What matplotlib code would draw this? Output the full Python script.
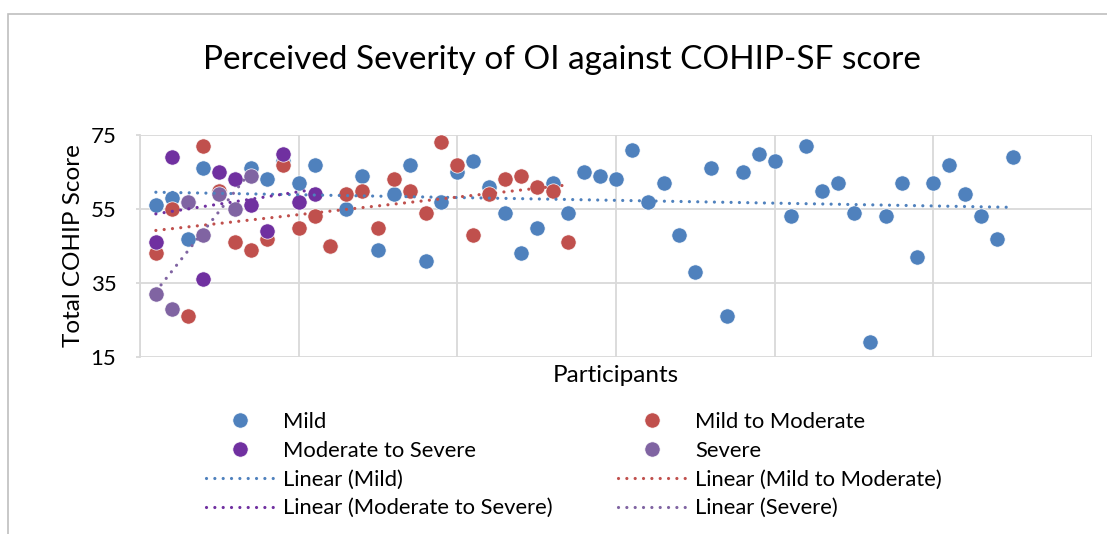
import numpy as np
import matplotlib.pyplot as plt
from matplotlib.patches import Rectangle

plt.rcParams['font.family'] = ['Lato', 'DejaVu Sans']

#-- Total COHIP-SF score per participant, one list per perceived severity group
mild = [56, 58, 47, 66, 60, 63, 66, 63, 68, 62, 67, 45, 55, 64, 44, 59, 67, 41, 57, 65,
        68, 61, 54, 43, 50, 62, 54, 65, 64, 63, 71, 57, 62, 48, 38, 66, 26, 65, 70, 68,
        53, 72, 60, 62, 54, 19, 53, 62, 42, 62, 67, 59, 53, 47, 69]
mild_to_moderate = [43, 55, 26, 72, 60, 46, 44, 47, 67, 50, 53, 45, 59, 60, 50, 63, 60, 54,
                    73, 67, 48, 59, 63, 64, 61, 60, 46]
moderate_to_severe = [46, 69, 57, 36, 65, 63, 56, 49, 70, 57, 59]
severe = [32, 28, 57, 48, 59, 55, 64]

names = ['Mild', 'Mild to Moderate', 'Moderate to Severe', 'Severe']
colors = ['#4F81BD', '#C0504D', '#7030A0', '#8064A2']
series = [mild, mild_to_moderate, moderate_to_severe, severe]

y_ticks = [15, 35, 55, 75]

fig = plt.figure(figsize=(11.07, 5.34), dpi=100)

#-- chart area border (only top and left are visible in the crop)
fig.patches.append(Rectangle((8 / 1107, -0.1), 1.2, 1.1 - 14 / 534,
                             transform=fig.transFigure, fill=False,
                             edgecolor='#BFBFBF', lw=1.2))

ax = fig.add_axes([140 / 1107, 1 - 357 / 534, 952 / 1107, 222 / 534])

dots = []
fits = []
for vals, name, col in zip(series, names, colors):
    x = np.arange(1, len(vals) + 1)
    h, = ax.plot(x, vals, 'o', color=col, markersize=11, markeredgecolor='white',
                 markeredgewidth=0.5, label=name, zorder=3)
    dots.append(h)

for vals, name, col in zip(series, names, colors):
    x = np.arange(1, len(vals) + 1)
    k, b = np.polyfit(x, vals, 1)
    l, = ax.plot(x, k * x + b, color=col, lw=2.3, ls=(0, (0.01, 2.6)),
                 dash_capstyle='round', label='Linear (%s)' % name, zorder=4)
    fits.append(l)

ax.set_xlim(0, 60)
ax.set_ylim(15, 75)
ax.set_xticks(np.arange(0, 61, 10))
ax.set_xticklabels([])
ax.set_yticks(y_ticks)
ax.tick_params(axis='x', length=0)
ax.tick_params(axis='y', length=3, width=1.3, color='#D9D9D9', labelsize=16, pad=14)
ax.grid(True, color='#D9D9D9', lw=1.3)
ax.set_axisbelow(True)
for s in ['top', 'right', 'bottom']:
    ax.spines[s].set_visible(False)
ax.spines['left'].set_color('#D9D9D9')
ax.spines['left'].set_linewidth(1.3)

ax.set_ylabel('Total COHIP Score', fontsize=17.5, labelpad=5)
ax.set_xlabel('Participants', fontsize=17.5, va='center')
ax.xaxis.set_label_coords(0.5, -19 / 222)

fig.text(562 / 1107, 1 - 60 / 534, 'Perceived Severity of OI against COHIP-SF score',
         ha='center', va='center', fontsize=24)

#-- legend as two columns placed separately
kw = dict(loc='upper left', frameon=False, fontsize=15.8, borderpad=0,
          handlelength=3.1, handletextpad=0.4, labelspacing=0.40, borderaxespad=0)
leg1 = fig.legend([dots[0], dots[2], fits[0], fits[2]],
                  [names[0], names[2], 'Linear (Mild)', 'Linear (Moderate to Severe)'],
                  bbox_to_anchor=(206 / 1107, 1 - 412 / 534), **kw)
leg2 = fig.legend([dots[1], dots[3], fits[1], fits[3]],
                  [names[1], names[3], 'Linear (Mild to Moderate)', 'Linear (Severe)'],
                  bbox_to_anchor=(618 / 1107, 1 - 412 / 534), **kw)

plt.savefig('out.png', dpi=100)
